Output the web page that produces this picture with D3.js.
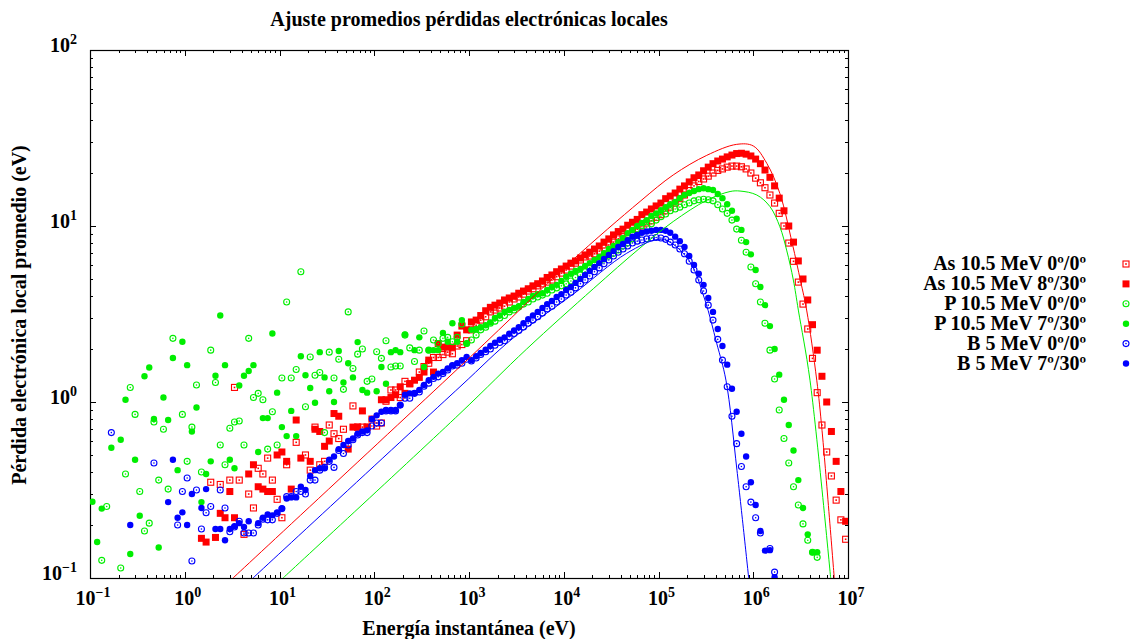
<!DOCTYPE html>
<html>
<head>
<meta charset="utf-8">
<script src="https://cdn.jsdelivr.net/npm/d3@7"></script>
<style>
  html, body { margin: 0; padding: 0; background: #fff; }
  svg { display: block; font-family: "Liberation Serif", "Times New Roman", serif; font-weight: bold; }
</style>
</head>
<body>
<svg id="chart"></svg>
<script>
const _ = null;

// energy bin centres (eV), 20 bins per decade
const energy = [
  0.106,0.119,0.133,0.150,0.168,0.188,0.211,0.237,0.266,0.299,0.335,0.376,0.422,0.473,0.531,0.596,0.668,0.750,0.841,0.944,
  1.06,1.19,1.33,1.50,1.68,1.88,2.11,2.37,2.66,2.99,3.35,3.76,4.22,4.73,5.31,5.96,6.68,7.50,8.41,9.44,
  10.6,11.9,13.3,15.0,16.8,18.8,21.1,23.7,26.6,29.9,33.5,37.6,42.2,47.3,53.1,59.6,66.8,75.0,84.1,94.4,
  106,119,133,150,168,188,211,237,266,299,335,376,422,473,531,596,668,750,841,944,
  1.06e3,1.19e3,1.33e3,1.50e3,1.68e3,1.88e3,2.11e3,2.37e3,2.66e3,2.99e3,3.35e3,3.76e3,4.22e3,4.73e3,5.31e3,5.96e3,6.68e3,7.50e3,8.41e3,9.44e3,
  1.06e4,1.19e4,1.33e4,1.50e4,1.68e4,1.88e4,2.11e4,2.37e4,2.66e4,2.99e4,3.35e4,3.76e4,4.22e4,4.73e4,5.31e4,5.96e4,6.68e4,7.50e4,8.41e4,9.44e4,
  1.06e5,1.19e5,1.33e5,1.50e5,1.68e5,1.88e5,2.11e5,2.37e5,2.66e5,2.99e5,3.35e5,3.76e5,4.22e5,4.73e5,5.31e5,5.96e5,6.68e5,7.50e5,8.41e5,9.44e5,
  1.06e6,1.19e6,1.33e6,1.50e6,1.68e6,1.88e6,2.11e6,2.37e6,2.66e6,2.99e6,3.35e6,3.76e6,4.22e6,4.73e6,5.31e6,5.96e6,6.68e6,7.50e6,8.41e6,9.44e6
];

// mean local electronic loss (eV) per bin, one array per series
const asOpen = [
  _,_,_,_,_,_,_,_,_,_,_,_,_,_,_,_,_,_,_,_,
  _,_,_,_,_,0.35,_,0.34,_,0.36,1.21,0.36,0.177,0.30,0.25,0.42,0.39,0.48,0.36,0.28,
  0.22,0.44,_,0.59,_,0.50,0.41,0.72,0.44,0.46,0.74,0.66,0.62,0.70,_,0.95,0.72,0.72,0.72,_,
  0.73,0.76,1.01,1.17,1.17,1.06,1.31,1.27,_,1.48,1.59,1.66,1.79,1.79,1.86,1.92,1.88,2.08,2.12,2.23,
  2.57,2.73,2.92,3.05,3.25,3.33,3.42,3.50,3.70,3.85,3.95,4.10,4.27,4.40,4.57,4.69,4.80,4.93,5.15,5.40,
  5.62,5.92,6.15,6.41,6.67,6.75,6.95,7.20,7.50,7.80,8.10,8.45,8.70,8.90,9.30,9.60,10.0,10.4,10.7,11.2,
  11.6,12.2,12.8,13.5,14.3,15.0,15.9,16.9,17.9,18.5,19.2,20.0,20.7,21.1,21.6,21.9,21.9,21.7,21.1,20.0,
  18.7,17.6,16.5,15.0,13.5,11.8,10.0,8.0,6.3,4.8,3.6,2.6,1.77,1.13,0.74,0.52,0.38,0.277,0.214,0.166
];
const asTilt = [
  _,_,_,_,_,_,_,_,_,_,_,_,_,_,_,_,_,_,_,_,
  _,_,_,0.168,0.16,_,0.17,0.233,0.22,0.31,0.22,_,_,0.39,0.44,0.33,0.32,0.31,0.31,0.50,
  0.52,0.46,0.32,0.79,0.48,_,0.46,0.70,0.68,0.56,0.60,0.86,0.83,_,0.54,0.72,0.72,0.89,0.72,0.80,
  _,1.03,1.03,1.06,1.10,1.22,1.12,1.27,1.33,1.38,1.48,1.73,1.48,2.15,2.05,2.05,2.05,2.40,2.70,2.57,
  2.85,2.92,3.10,3.30,3.45,3.55,3.65,3.80,3.90,4.00,4.15,4.27,4.40,4.57,4.70,4.87,5.10,5.27,5.50,5.70,
  5.92,6.15,6.33,6.58,6.85,7.10,7.40,7.70,8.10,8.45,8.90,9.30,9.60,10.1,10.5,10.9,11.6,12.0,12.5,13.0,
  13.5,14.3,14.8,15.4,16.2,16.9,17.8,18.8,19.5,20.6,21.6,22.6,23.4,24.0,24.7,25.3,25.8,25.9,25.6,25.0,
  24.0,22.6,20.8,18.9,16.9,14.4,12.2,10.0,8.1,6.33,5.0,3.8,2.75,1.97,1.4,1.0,0.68,0.46,0.31,0.21
];
const pOpen = [
  _,_,0.126,0.255,_,_,0.114,0.39,1.21,0.85,0.31,0.185,0.205,0.77,0.36,0.70,0.32,2.3,_,0.85,
  0.46,0.72,1.25,0.40,_,1.97,1.29,0.57,0.44,0.71,0.77,0.78,0.57,2.3,1.06,1.12,1.03,0.54,0.88,0.57,
  1.37,3.7,1.37,1.53,5.5,0.94,1.8,1.42,1.47,0.67,1.92,1.37,1.75,1.18,3.25,1.55,1.87,2.0,1.31,1.35,
  1.93,1.77,2.23,1.58,1.6,1.6,2.4,2.03,1.7,1.97,2.53,1.97,2.25,2.15,2.3,2.33,2.2,2.33,2.77,2.15,
  2.25,2.40,2.57,2.66,2.80,2.88,3.00,3.10,3.25,3.33,3.46,3.60,3.70,3.85,3.95,4.05,4.15,4.33,4.45,4.57,
  4.69,4.87,5.10,5.27,5.50,5.78,6.00,6.25,6.50,6.75,7.00,7.30,7.70,8.00,8.45,8.90,9.35,9.85,10.3,10.8,
  11.3,11.7,12.2,12.5,12.8,13.2,13.5,13.9,14.1,14.2,14.1,13.9,13.2,12.5,11.8,10.8,9.6,8.3,7.1,5.85,
  4.7,3.7,2.8,1.97,1.35,0.90,0.62,0.45,0.33,0.26,0.203,0.164,0.14,0.131,_,_,_,_,_,_
];
const pTilt = [
  0.271,0.160,0.248,_,0.55,_,0.61,1.03,0.137,0.47,0.226,1.40,1.57,0.80,0.149,1.06,0.79,1.78,0.41,2.2,
  1.62,0.68,0.93,0.27,0.39,0.46,1.41,3.1,1.62,0.47,0.42,1.24,1.41,1.50,1.62,0.52,0.81,0.81,2.45,1.13,
  0.72,0.64,0.89,0.64,1.82,1.42,1.20,0.99,1.92,1.38,1.15,1.0,1.95,1.29,1.66,1.38,2.19,1.17,1.13,_,
  1.15,1.58,1.27,1.92,1.97,1.92,2.42,_,1.97,2.33,1.58,1.97,1.97,1.97,2.47,2.2,2.8,2.2,2.92,2.15,
  2.57,2.60,2.66,2.73,2.83,3.00,3.10,3.25,3.33,3.42,3.50,3.70,3.85,4.00,4.10,4.15,4.33,4.50,4.63,4.87,
  5.15,5.35,5.55,5.70,5.92,6.15,6.41,6.67,7.00,7.40,7.70,8.10,8.55,9.10,9.50,10.0,10.4,10.8,11.4,11.8,
  12.3,12.8,13.3,13.7,14.4,15.0,15.4,15.8,16.2,16.4,16.2,16.0,15.2,14.4,13.3,12.2,11.0,9.5,8.1,6.9,
  5.62,4.5,3.55,2.7,2.0,1.43,1.03,0.74,0.53,0.36,0.25,0.177,0.14,0.14,_,_,_,_,_,_
];
const bOpen = [
  _,_,_,_,0.67,_,_,_,_,_,_,_,_,0.45,_,_,_,_,0.20,0.31,
  0.37,0.125,0.316,0.19,0.235,0.255,_,0.316,0.25,0.183,0.195,0.21,0.18,0.18,0.18,0.20,0.216,0.214,0.214,0.233,
  0.248,0.29,0.29,0.31,0.31,0.30,0.36,0.36,0.41,0.425,0.46,0.425,0.53,0.51,0.57,0.61,0.65,0.67,0.67,0.73,
  0.76,0.76,0.89,0.89,0.89,0.96,1.05,1.05,1.12,1.14,1.23,1.28,1.36,1.39,1.45,1.52,1.60,1.62,1.66,1.75,
  1.71,1.78,1.86,1.93,2.00,2.10,2.18,2.23,2.35,2.45,2.55,2.67,2.80,2.92,3.05,3.20,3.38,3.50,3.70,3.85,
  4.05,4.20,4.45,4.70,4.93,5.20,5.50,5.78,6.10,6.41,6.75,7.10,7.40,7.70,8.00,8.20,8.32,8.45,8.55,8.60,
  8.55,8.40,8.10,7.80,7.40,6.95,6.30,5.62,4.93,4.27,3.55,2.92,2.27,1.73,1.22,0.83,0.58,0.43,0.33,0.27,
  0.22,0.18,_,0.147,0.108,_,_,_,_,_,_,_,_,_,_,_,_,_,_,_
];
const bTilt = [
  _,_,_,_,_,_,_,_,0.20,_,_,_,_,_,_,_,0.27,0.47,0.22,0.236,
  0.20,0.30,_,0.25,0.32,_,0.19,0.19,0.164,0.19,0.197,0.205,0.195,0.21,_,0.205,0.22,0.23,0.227,0.236,
  0.248,0.283,0.287,0.287,0.33,0.316,0.38,0.41,0.42,0.42,0.47,0.49,0.54,0.57,0.60,0.62,0.66,0.68,0.69,0.80,
  0.84,0.88,0.90,0.90,0.90,0.96,1.10,1.12,1.12,1.17,1.25,1.33,1.39,1.45,1.48,1.55,1.62,1.66,1.73,1.80,
  1.73,1.82,1.90,1.98,2.08,2.17,2.26,2.33,2.44,2.55,2.66,2.80,2.95,3.10,3.25,3.42,3.60,3.75,3.95,4.10,
  4.33,4.50,4.75,5.00,5.27,5.55,5.85,6.15,6.50,6.85,7.20,7.60,7.90,8.30,8.70,8.90,9.15,9.30,9.40,9.50,
  9.50,9.40,9.15,8.70,8.20,7.60,6.75,6.00,5.35,4.63,3.90,3.25,2.60,2.08,1.63,1.19,0.88,0.66,0.49,0.35,
  0.26,0.185,0.143,0.144,0.101,_,_,_,_,_,_,_,_,_,_,_,_,_,_,_
];

// fitted curves (energy eV, loss eV)
const fitAsE = [3.23, 1.03e3, 1.16e4, 6.4e4, 1.43e5, 3.23e5, 6.69e5, 1.0e6, 1.39e6, 1.91e6, 2.58e6, 3.17e6, 3.66e6, 4.68e6, 5.32e6, 7.16e6];
const fitAsV = [0.1, 1.80, 6.2, 13.8, 19.5, 25.2, 29.1, 28.5, 22.7, 15.3, 7.97, 4.82, 3.33, 1.33, 0.69, 0.1];
const fitPE = [10.9, 803, 4.06e3, 2.05e4, 6.38e4, 1.43e5, 3.23e5, 5.69e5, 7.25e5, 1.09e6, 1.5e6, 1.91e6, 2.25e6, 2.65e6, 2.99e6, 3.97e6, 6.56e6];
const fitPV = [0.1, 0.86, 2.0, 4.4, 7.5, 10.6, 14.0, 15.7, 15.8, 15.0, 12.9, 9.9, 7.3, 4.93, 3.33, 1.33, 0.1];
const fitBE = [5.25, 803, 2.9e3, 1.26e4, 4.62e4, 9.96e4, 1.32e5, 2.15e5, 3.09e5, 4.11e5, 5.15e5, 6.73e5, 8.95e5];
const fitBV = [0.1, 1.22, 2.3, 4.1, 7.0, 8.4, 8.1, 6.24, 3.8, 2.16, 1.33, 0.41, 0.1];

const seriesNames = [
  "As 10.5 MeV 0º/0º", "As 10.5 MeV 8º/30º",
  "P 10.5 MeV 0º/0º", "P 10.5 MeV 7º/30º",
  "B 5 MeV 0º/0º", "B 5 MeV 7º/30º"
];
const xTickValues = [1e-1, 1e0, 1e1, 1e2, 1e3, 1e4, 1e5, 1e6, 1e7];
const yTickValues = [1e-1, 1e0, 1e1, 1e2];

const W = 1132, H = 639;
const plot = { left: 90, right: 848, top: 50, bottom: 578 };

const svg = d3.select("#chart").attr("width", W).attr("height", H);

const x = d3.scaleLog().domain([1e-1, 1e7]).range([plot.left, plot.right]);
const y = d3.scaleLog().domain([1e-1, 1e2]).range([plot.bottom, plot.top]);

svg.append("defs").append("clipPath").attr("id", "clip")
  .append("rect")
  .attr("x", plot.left).attr("y", plot.top)
  .attr("width", plot.right - plot.left).attr("height", plot.bottom - plot.top);

const isDecade = d => Math.abs(Math.log10(d) - Math.round(Math.log10(d))) < 1e-9;
const xMinor = x.ticks().filter(d => !isDecade(d));
const yMinor = y.ticks().filter(d => !isDecade(d));

function tickRow(axis, transform, values, size) {
  svg.append("g").attr("transform", transform)
    .call(axis.tickValues(values).tickSize(-size).tickSizeOuter(0).tickFormat(""))
    .call(g => g.select(".domain").remove())
    .selectAll("line").attr("stroke", "#000").attr("shape-rendering", "crispEdges");
}
tickRow(d3.axisBottom(x), `translate(0,${plot.bottom})`, xTickValues, 6);
tickRow(d3.axisBottom(x), `translate(0,${plot.bottom})`, xMinor, 3);
tickRow(d3.axisTop(x), `translate(0,${plot.top})`, xTickValues, 6);
tickRow(d3.axisTop(x), `translate(0,${plot.top})`, xMinor, 3);
tickRow(d3.axisLeft(y), `translate(${plot.left},0)`, yTickValues, 6);
tickRow(d3.axisLeft(y), `translate(${plot.left},0)`, yMinor, 3);
tickRow(d3.axisRight(y), `translate(${plot.right},0)`, yTickValues, 6);
tickRow(d3.axisRight(y), `translate(${plot.right},0)`, yMinor, 3);

svg.append("rect")
  .attr("x", plot.left + 0.5).attr("y", plot.top + 0.5)
  .attr("width", plot.right - plot.left).attr("height", plot.bottom - plot.top)
  .attr("fill", "none").attr("stroke", "#000").attr("stroke-width", 1.2);

// power-of-ten labels
function powLabel(sel) {
  sel.append("tspan").text("10");
  sel.append("tspan")
    .attr("dy", -8).attr("font-size", 14)
    .text(d => String(Math.round(Math.log10(d))).replace("-", "\u2212"));
}
svg.append("g").attr("font-size", 20).attr("text-anchor", "middle")
  .selectAll("text").data(xTickValues).join("text")
  .attr("x", d => x(d) + 3).attr("y", 605)
  .call(powLabel);
svg.append("g").attr("font-size", 20).attr("text-anchor", "end")
  .selectAll("text").data(yTickValues).join("text")
  .attr("x", 77).attr("y", d => y(d) + 2)
  .call(powLabel);

// titles
svg.append("text").attr("x", 469).attr("y", 26).attr("text-anchor", "middle")
  .attr("font-size", 20).text("Ajuste promedios pérdidas electrónicas locales");
svg.append("text").attr("x", 469).attr("y", 635).attr("text-anchor", "middle")
  .attr("font-size", 20).text("Energía instantánea (eV)");
svg.append("text").attr("transform", "translate(26,315) rotate(-90)").attr("text-anchor", "middle")
  .attr("font-size", 20).text("Pérdida electrónica local promedio (eV)");

// markers
const colors = ["#ff0000", "#ff0000", "#00ee00", "#00ee00", "#0000ff", "#0000ff"];
const kinds = ["openSquare", "square", "openCircle", "circle", "openCircle", "circle"];
const seriesValues = [asOpen, asTilt, pOpen, pTilt, bOpen, bTilt];

function drawMarker(g, kind, color) {
  if (kind === "square") {
    g.append("rect").attr("x", -3.5).attr("y", -3.5).attr("width", 7).attr("height", 7).attr("fill", color);
  } else if (kind === "openSquare") {
    g.append("rect").attr("x", -3).attr("y", -3).attr("width", 6).attr("height", 6)
      .attr("fill", "none").attr("stroke", color).attr("stroke-width", 1.1);
    g.append("rect").attr("x", -0.8).attr("y", -0.8).attr("width", 1.6).attr("height", 1.6).attr("fill", color);
  } else if (kind === "circle") {
    g.append("circle").attr("r", 3.2).attr("fill", color);
  } else {
    g.append("circle").attr("r", 3).attr("fill", "none").attr("stroke", color).attr("stroke-width", 1.1);
    g.append("circle").attr("r", 0.8).attr("fill", color);
  }
}

const pts = svg.append("g").attr("clip-path", "url(#clip)");
seriesValues.forEach((vals, i) => {
  const data = energy.map((e, k) => [e, vals[k]]).filter(d => d[1] != null);
  pts.append("g").selectAll("g").data(data).join("g")
    .attr("transform", d => `translate(${x(d[0])},${y(d[1])})`)
    .each(function () { drawMarker(d3.select(this), kinds[i], colors[i]); });
});

// fitted lines
const line = d3.line().x(d => x(d[0])).y(d => y(d[1])).curve(d3.curveCatmullRom.alpha(0.5));
const fits = [[fitAsE, fitAsV, "#ff0000"], [fitPE, fitPV, "#00ee00"], [fitBE, fitBV, "#0000ff"]];
fits.forEach(([es, vs, c]) => {
  pts.append("path")
    .datum(es.map((e, k) => [e, vs[k]]))
    .attr("fill", "none").attr("stroke", c).attr("stroke-width", 1)
    .attr("d", line);
});

// legend
const legend = svg.append("g").attr("font-size", 20);
seriesNames.forEach((name, i) => {
  const ly = 264 + i * 19.9;
  legend.append("text").attr("x", 1086).attr("y", ly + 6).attr("text-anchor", "end").text(name);
  const m = legend.append("g").attr("transform", `translate(1126,${ly})`);
  drawMarker(m, kinds[i], colors[i]);
});
</script>
</body>
</html>
